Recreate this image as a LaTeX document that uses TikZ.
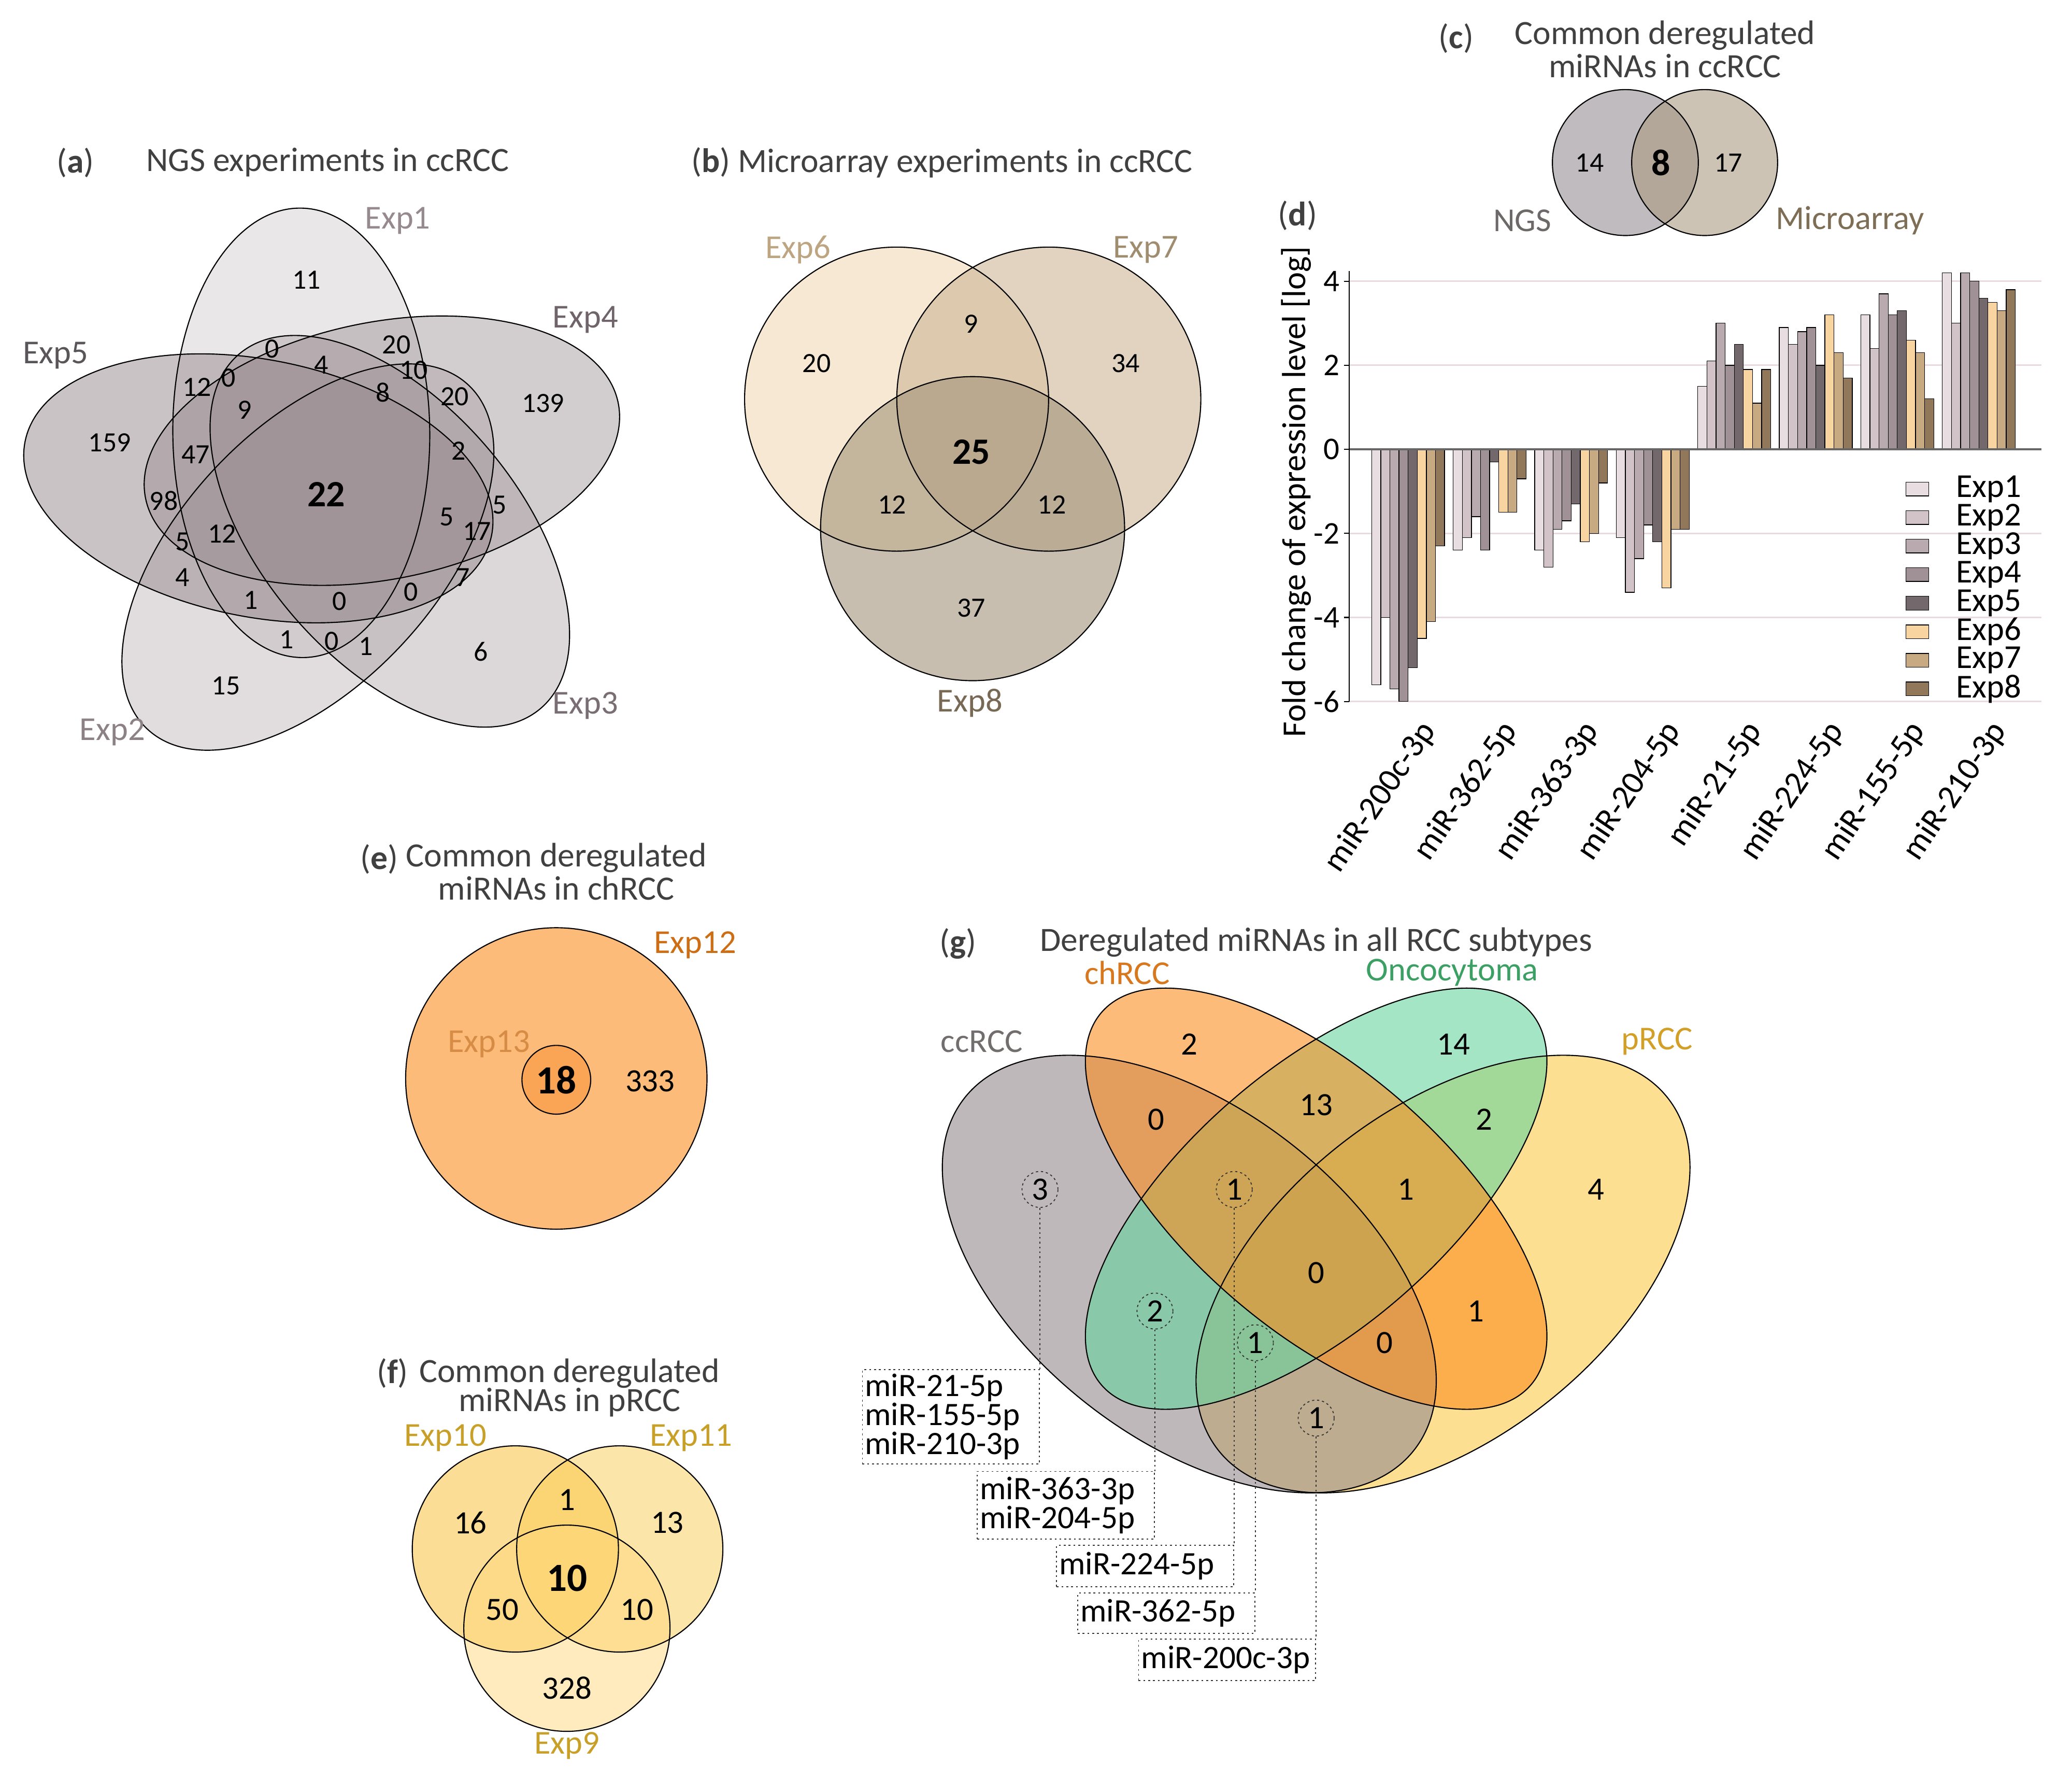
\documentclass[tikz,border=0pt]{standalone}
\usepackage{fontspec}
\setmainfont{Carlito}
\begin{document}
\definecolor{ttlc}{RGB}{64,64,64}
\definecolor{aFill}{RGB}{150,136,141}
\definecolor{aL1}{RGB}{150,138,142}
\definecolor{aL2}{RGB}{140,130,133}
\definecolor{aL3}{RGB}{120,110,115}
\definecolor{aL4}{RGB}{110,100,105}
\definecolor{aL5}{RGB}{90,85,88}
\definecolor{bF6}{RGB}{242,217,182}
\definecolor{bF7}{RGB}{205,183,150}
\definecolor{bF8}{RGB}{163,147,122}
\definecolor{bL6}{RGB}{190,165,130}
\definecolor{bL7}{RGB}{160,140,110}
\definecolor{bL8}{RGB}{120,105,85}
\definecolor{cF1}{RGB}{149,143,147}
\definecolor{cF2}{RGB}{172,155,130}
\definecolor{cL1}{RGB}{110,105,105}
\definecolor{cL2}{RGB}{125,110,85}
\definecolor{bc0}{RGB}{232,222,225}
\definecolor{bc1}{RGB}{210,195,200}
\definecolor{bc2}{RGB}{185,170,175}
\definecolor{bc3}{RGB}{160,145,150}
\definecolor{bc4}{RGB}{115,105,108}
\definecolor{bc5}{RGB}{248,213,160}
\definecolor{bc6}{RGB}{200,170,130}
\definecolor{bc7}{RGB}{145,120,90}
\definecolor{gridc}{RGB}{232,218,222}
\definecolor{eF12}{RGB}{253,187,122}
\definecolor{eF13}{RGB}{250,165,85}
\definecolor{eL12}{RGB}{205,110,20}
\definecolor{eL13}{RGB}{215,140,70}
\definecolor{fF10}{RGB}{249,189,45}
\definecolor{fF11}{RGB}{251,205,85}
\definecolor{fF9}{RGB}{255,217,125}
\definecolor{fL}{RGB}{200,160,40}
\definecolor{gP}{RGB}{252,203,72}
\definecolor{gC}{RGB}{147,138,143}
\definecolor{gO}{RGB}{102,213,157}
\definecolor{gH}{RGB}{252,142,33}
\definecolor{gLH}{RGB}{215,120,30}
\definecolor{gLO}{RGB}{60,160,100}
\definecolor{gLC}{RGB}{115,110,110}
\definecolor{gLP}{RGB}{210,160,40}
\begin{tikzpicture}[x=0.025cm,y=-0.025cm,
  ttl/.style={text=ttlc,font=\fontsize{18.3}{21}\selectfont,inner sep=0},
  numa/.style={font=\fontsize{15}{18}\selectfont,inner sep=0},
  numab/.style={font=\fontsize{20}{24}\selectfont\bfseries,inner sep=0},
  numg/.style={font=\fontsize{17.5}{21}\selectfont,inner sep=0},
  numgb/.style={font=\fontsize{21.5}{25}\selectfont\bfseries,inner sep=0},
  lab/.style={font=\fontsize{18}{21}\selectfont,inner sep=0},
  outl/.style={draw=black,line width=0.6pt},
  gridln/.style={draw=gridc,line width=0.8pt},
  ticklab/.style={font=\fontsize{17}{20}\selectfont,inner sep=0,anchor=east},
  xlab/.style={font=\fontsize{18}{21}\selectfont,inner sep=0,anchor=east,rotate=56},
  legbox/.style={draw=black,line width=0.4pt,minimum width=0.43cm,minimum height=0.26cm,inner sep=0},
  legtxt/.style={font=\fontsize{18}{21}\selectfont,inner sep=0,anchor=west},
  dcirc/.style={circle,draw=black!80,dash pattern=on 1.2pt off 1.5pt,line width=0.5pt,minimum size=0.68cm,inner sep=0,font=\fontsize{17.5}{21}\selectfont},
  gbox/.style={draw=black!80,dash pattern=on 1pt off 1.6pt,line width=0.5pt,anchor=north east,text width=3.25cm,align=left,inner xsep=0.05cm,inner ysep=0,font=\fontsize{17.6}{15.6}\selectfont},
  gdot/.style={draw=black!80,dash pattern=on 1pt off 1.6pt,line width=0.5pt}]
\useasboundingbox (0,0) rectangle (1568,1346);
\fill[white] (0,0) rectangle (1568,1346);

% ================= (a) =================
\node[ttl] (aT1) at (57,123) {(\textbf{a})};
\node[ttl] (aT2) at (248,123) {NGS experiments in ccRCC};
\foreach \cx/\cy/\ang/\ra/\op in {195.5/369.5/-11.4/4.5/0.5, 289/341/11.4/4.56/0.42, 295/402/-49.6/4.4/0.33, 233/421.5/47/4.45/0.28, 228/327.5/90.5/4.25/0.2}
  \fill[aFill,fill opacity=\op,rotate around={\ang:(\cx,\cy)}] (\cx,\cy) ellipse [x radius=\ra cm,y radius=2.43cm];
\foreach \cx/\cy/\ang/\ra in {195.5/369.5/-11.4/4.5, 289/341/11.4/4.56, 295/402/-49.6/4.4, 233/421.5/47/4.45, 228/327.5/90.5/4.25}
  \draw[outl,rotate around={\ang:(\cx,\cy)}] (\cx,\cy) ellipse [x radius=\ra cm,y radius=2.43cm];
\foreach \x/\y/\t [count=\k] in {232/212/11, 206/264/0, 243/276/4, 300/261/20, 313/280/10, 149/293/12, 173/286/0, 185/310/9, 290/297/8, 344/300/20, 411/305/139, 83/335/159, 148/344/47, 347/341/2, 124/379/98, 378/382/5, 338/391/5, 361/402/17, 138/410/5, 168/404/12, 138/437/4, 350/437/7, 190/454/1, 257/455/0, 311/448/0, 217/484/1, 251/485/0, 277/489/1, 364/493/6, 171/519/15}
  \node[numa] (an\k) at (\x,\y) {\t};
\node[numab] (an0) at (247,374) {22};
\node[lab,text=aL1] (aE1) at (301,167) {Exp1};
\node[lab,text=aL4] (aE4) at (443,242) {Exp4};
\node[lab,text=aL5] (aE5) at (42,269) {Exp5};
\node[lab,text=aL2] (aE2) at (85,554) {Exp2};
\node[lab,text=aL3] (aE3) at (443,534) {Exp3};

% ================= (b) =================
\node[ttl,anchor=west] (bT) at (523,123) {(\textbf{b}) Microarray experiments in ccRCC};
\fill[bF6,fill opacity=0.6] (678.5,302) circle [radius=2.875cm];
\fill[bF7,fill opacity=0.6] (793.7,302) circle [radius=2.875cm];
\fill[bF8,fill opacity=0.6] (736,400) circle [radius=2.875cm];
\draw[outl] (678.5,302) circle [radius=2.875cm];
\draw[outl] (793.7,302) circle [radius=2.875cm];
\draw[outl] (736,400) circle [radius=2.875cm];
\node[numa] (bn1) at (618,275) {20};
\node[numa] (bn2) at (735,245) {9};
\node[numa] (bn3) at (852,275) {34};
\node[numab] (bn4) at (735,342) {25};
\node[numa] (bn5) at (675,382) {12};
\node[numa] (bn6) at (796,382) {12};
\node[numa] (bn7) at (735,460) {37};
\node[lab,text=bL6] (bE6) at (604,189) {Exp6};
\node[lab,text=bL7] (bE7) at (867,189) {Exp7};
\node[lab,text=bL8] (bE8) at (734,532) {Exp8};

% ================= (c) =================
\node[ttl] (cT0) at (1102,29) {(\textbf{c})};
\node[ttl] (cT1) at (1260,27) {Common deregulated};
\node[ttl] (cT2) at (1260,50) {miRNAs in ccRCC};
\fill[cF1,fill opacity=0.6] (1230,123) circle [radius=1.38cm];
\fill[cF2,fill opacity=0.6] (1290,123) circle [radius=1.38cm];
\draw[outl] (1230,123) circle [radius=1.38cm];
\draw[outl] (1290,123) circle [radius=1.38cm];
\node[numa] (cn1) at (1203,123) {14};
\node[numab] (cn2) at (1257,123) {8};
\node[numa] (cn3) at (1308,123) {17};
\node[lab,text=cL1] (cE1) at (1152,167) {NGS};
\node[lab,text=cL2] (cE2) at (1400,167) {Microarray};

% ================= (d) =================
\node[ttl] (dT) at (982,163) {(\textbf{d})};
\foreach \yy in {212.8,276.4,403.6,467.2,530.8}
  \draw[gridln] (1021,\yy) -- (1545,\yy);
\foreach \g/\vals in {0/{-5.6,-4.0,-5.7,-6.0,-5.2,-4.5,-4.1,-2.3},
                      1/{-2.4,-2.1,-1.6,-2.4,-0.3,-1.5,-1.5,-0.7},
                      2/{-2.4,-2.8,-1.9,-1.7,-1.3,-2.2,-2.0,-0.8},
                      3/{-2.1,-3.4,-2.6,-1.8,-2.2,-3.3,-1.9,-1.9},
                      4/{1.5,2.1,3.0,2.0,2.5,1.9,1.1,1.9},
                      5/{2.9,2.5,2.8,2.9,2.0,3.2,2.3,1.7},
                      6/{3.2,2.4,3.7,3.2,3.3,2.6,2.3,1.2},
                      7/{4.2,3.0,4.2,4.0,3.6,3.5,3.3,3.8}}{
  \foreach \v [count=\i from 0] in \vals {
    \draw[fill=bc\i,draw=black,line width=0.35pt] ({1038+61.7*\g+6.9*\i},340) rectangle ({1038+61.7*\g+6.9*(\i+1)},{340-31.8*\v});
  }
}
\draw[draw=black!60,line width=1pt] (1021,340) -- (1545,340);
\draw[black,line width=0.6pt] (1021,205) -- (1021,531);
\foreach \yy in {212.8,276.4,340,403.6,467.2,530.8}
  \draw[black,line width=0.6pt] (1017,\yy) -- (1021,\yy);
\node[ticklab] (dy1) at (1014,212.8) {4};
\node[ticklab] (dy2) at (1014,276.4) {2};
\node[ticklab] (dy3) at (1014,340) {0};
\node[ticklab] (dy4) at (1014,403.6) {-2};
\node[ticklab] (dy5) at (1014,467.2) {-4};
\node[ticklab] (dy6) at (1014,530.8) {-6};
\node[font=\fontsize{18}{21}\selectfont,inner sep=0,rotate=90] (dYL) at (981,372) {Fold change of expression level [log]};
\foreach \g/\lab in {0/miR-200c-3p,1/miR-362-5p,2/miR-363-3p,3/miR-204-5p,4/miR-21-5p,5/miR-224-5p,6/miR-155-5p,7/miR-210-3p}
  \node[xlab] (dx\g) at ({1038+61.7*\g+27.6+16},549) {\lab};
\foreach \i [evaluate=\i as \n using int(\i+1)] in {0,...,7}{
  \node[legbox,fill=bc\i] (dlb\i) at (1451,{370+21.6*\i}) {};
  \node[legtxt] (dlt\i) at (1480,{370+21.6*\i}) {Exp\n};
}

% ================= (e) =================
\node[ttl] (eT0) at (287,650) {(\textbf{e})};
\node[ttl] (eT1) at (421,649) {Common deregulated};
\node[ttl] (eT2) at (421,672) {miRNAs in chRCC};
\fill[eF12] (421,816) circle [radius=2.85cm];
\draw[outl] (421,816) circle [radius=2.85cm];
\fill[eF13] (421,817) circle [radius=0.65cm];
\draw[outl] (421,817) circle [radius=0.65cm];
\node[numgb] (en1) at (421,817) {18};
\node[numg] (en2) at (492,818) {333};
\node[lab,text=eL12] (eE12) at (526,715) {Exp12};
\node[lab,text=eL13] (eE13) at (370,790) {Exp13};

% ================= (f) =================
\node[ttl] (fT0) at (297,1039) {(\textbf{f})};
\node[ttl] (fT1) at (431,1039) {Common deregulated};
\node[ttl] (fT2) at (431,1061) {miRNAs in pRCC};
\fill[fF10,fill opacity=0.5] (390,1172) circle [radius=1.95cm];
\fill[fF11,fill opacity=0.5] (469,1172) circle [radius=1.95cm];
\fill[fF9,fill opacity=0.5] (429,1232) circle [radius=1.95cm];
\draw[outl] (390,1172) circle [radius=1.95cm];
\draw[outl] (469,1172) circle [radius=1.95cm];
\draw[outl] (429,1232) circle [radius=1.95cm];
\node[numg] (fn1) at (356,1152) {16};
\node[numg] (fn2) at (429,1135) {1};
\node[numg] (fn3) at (505,1152) {13};
\node[numgb] (fn4) at (429,1194) {10};
\node[numg] (fn5) at (380,1218) {50};
\node[numg] (fn6) at (482,1218) {10};
\node[numg] (fn7) at (429,1277) {328};
\node[lab,text=fL] (fE10) at (337,1088) {Exp10};
\node[lab,text=fL] (fE11) at (523,1088) {Exp11};
\node[lab,text=fL] (fE9) at (429,1321) {Exp9};

% ================= (g) =================
\node[ttl] (gT0) at (725,714) {(\textbf{g})};
\node[ttl] (gT1) at (996,713) {Deregulated miRNAs in all RCC subtypes};
\fill[gP,fill opacity=0.6,rotate around={38:(1092,964)}] (1092,964) ellipse [x radius=5.4cm,y radius=3.125cm];
\fill[gC,fill opacity=0.6,rotate around={-38:(900,964)}] (900,964) ellipse [x radius=5.4cm,y radius=3.125cm];
\fill[gO,fill opacity=0.6,rotate around={41:(996,907)}] (996,907) ellipse [x radius=5.375cm,y radius=2.45cm];
\fill[gH,fill opacity=0.6,rotate around={-41:(996,907)}] (996,907) ellipse [x radius=5.375cm,y radius=2.45cm];
\draw[outl,rotate around={38:(1092,964)}] (1092,964) ellipse [x radius=5.4cm,y radius=3.125cm];
\draw[outl,rotate around={-38:(900,964)}] (900,964) ellipse [x radius=5.4cm,y radius=3.125cm];
\draw[outl,rotate around={41:(996,907)}] (996,907) ellipse [x radius=5.375cm,y radius=2.45cm];
\draw[outl,rotate around={-41:(996,907)}] (996,907) ellipse [x radius=5.375cm,y radius=2.45cm];
\node[lab,text=gLH] (gEH) at (853,736) {chRCC};
\node[lab,text=gLO] (gEO) at (1099,736) {Oncocytoma};
\node[lab,text=gLC] (gEC) at (743,788) {ccRCC};
\node[lab,text=gLP] (gEP) at (1254,788) {pRCC};
\node[numg] (gn1) at (900,790) {2};
\node[numg] (gn2) at (1100,790) {14};
\node[numg] (gn3) at (875,847) {0};
\node[numg] (gn4) at (996,836) {13};
\node[numg] (gn5) at (1123,847) {2};
\node[numg] (gn6) at (1064,900) {1};
\node[numg] (gn7) at (1208,900) {4};
\node[numg] (gn8) at (996,963) {0};
\node[numg] (gn9) at (1117,992) {1};
\node[numg] (gn10) at (1048,1016) {0};
\node[dcirc] (gc1) at (787,900) {3};
\node[dcirc] (gc2) at (934,900) {1};
\node[dcirc] (gc3) at (874,992) {2};
\node[dcirc] (gc4) at (950,1016) {1};
\node[dcirc] (gc5) at (996,1073) {1};
\node[gbox,minimum height=1.78cm] (gb1) at (787,1036) {\mbox{miR-21-5p}\\\mbox{miR-155-5p}\\\mbox{miR-210-3p}};
\node[gbox,minimum height=1.28cm] (gb2) at (874,1113) {\mbox{miR-363-3p}\\\mbox{miR-204-5p}};
\node[gbox,minimum height=0.78cm] (gb3) at (934,1169) {\mbox{miR-224-5p}};
\node[gbox,minimum height=0.76cm] (gb4) at (950,1205) {\mbox{miR-362-5p}};
\node[gbox,minimum height=0.78cm] (gb5) at (996,1240) {\mbox{miR-200c-3p}};
\draw[gdot] (gc1.south) -- (gb1.north east);
\draw[gdot] (gc3.south) -- (gb2.north east);
\draw[gdot] (gc2.south) -- (gb3.north east);
\draw[gdot] (gc4.south) -- (gb4.north east);
\draw[gdot] (gc5.south) -- (gb5.north east);
\end{tikzpicture}
\end{document}
